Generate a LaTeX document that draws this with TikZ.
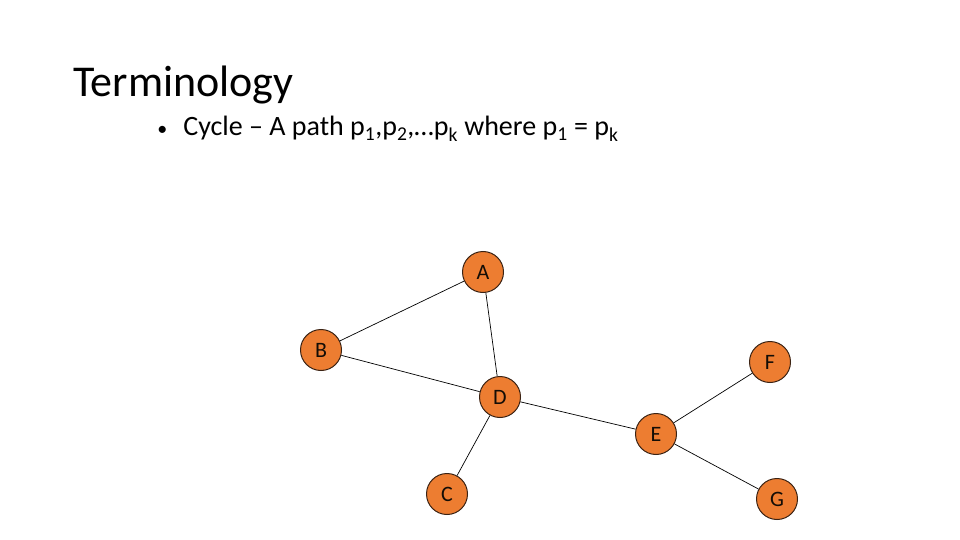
\documentclass[tikz,border=0pt]{standalone}
\usepackage{fontspec}
\setmainfont{Carlito}
\definecolor{vorange}{HTML}{ED7D31}
\definecolor{vedge}{HTML}{3B2314}

\begin{document}
\begin{tikzpicture}[x=1pt, y=-1pt, line width=0.7pt,
    vertex/.style={circle, draw=vedge, line width=1pt, fill=vorange, minimum size=41pt,
      inner sep=0pt, text=black!90!brown, font=\fontsize{22}{22}\selectfont}]
    \useasboundingbox (0,0) rectangle (960,540);
    % slide text
    \node[anchor=base west, inner sep=0pt, font=\fontsize{44}{44}\selectfont] (title) at (73,97) {Terminology};
    \node[anchor=base west, inner sep=0pt, font=\fontsize{28}{28}\selectfont] (cycle) at (157,136)
      {\makebox[26pt][l]{\fontsize{20}{20}\selectfont•}Cycle – A path p\textsubscript{1},p\textsubscript{2},…p\textsubscript{k} where p\textsubscript{1} = p\textsubscript{k}};
    % graph
    \node[vertex] (A) at (483,272) {A};
    \node[vertex] (B) at (321,350) {B};
    \node[vertex] (D) at (500,397) {D};
    \node[vertex] (F) at (770,362) {F};
    \node[vertex] (E) at (656,434) {E};
    \node[vertex] (C) at (447,494) {C};
    \node[vertex] (G) at (777,499) {G};
    \draw (A) -- (B);
    \draw (A) -- (D);
    \draw (B) -- (D);
    \draw (D) -- (E);
    \draw (D) -- (C);
    \draw (E) -- (F);
    \draw (E) -- (G);
  \end{tikzpicture}
\end{document}
